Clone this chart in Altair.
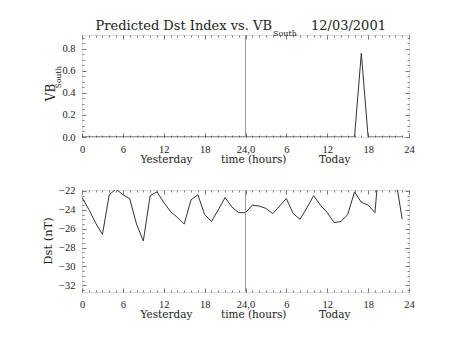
import altair as alt
import pandas as pd

# ---- data ----
hours = [0, 1, 2, 3, 4, 5, 6, 7, 8, 9, 10, 11, 12, 13, 14, 15, 16, 17, 18, 19, 20, 21, 22, 23,
         24, 25, 26, 27, 28, 29, 30, 31, 32, 33, 34, 35, 36, 37, 38, 39, 40, 41, 42, 43, 44, 45, 46, 47]
vb_south = [0, 0, 0, 0, 0, 0, 0, 0, 0, 0, 0, 0, 0, 0, 0, 0, 0, 0, 0, 0, 0, 0, 0, 0,
            0, 0, 0, 0, 0, 0, 0, 0, 0, 0, 0, 0, 0, 0, 0, 0, 0, 0.76, 0, 0, 0, 0, 0, 0]
dst = [-22.7, -23.95, -25.4, -26.6, -22.4, -21.8, -22.4, -22.8, -25.5, -27.3, -22.5, -22.1,
       -23.2, -24.2, -24.8, -25.5, -22.95, -22.4, -24.5, -25.25, -24.0, -22.7, -23.7, -24.3,
       -24.3, -23.5, -23.6, -23.85, -24.4, -23.6, -22.8, -24.4, -25.0, -23.8, -22.5, -23.5,
       -24.3, -25.35, -25.25, -24.5, -22.1, -23.2, -23.5, -24.3, -16.0, -14.0, -20.5, -25.0]
divider_hour = [24]

x_major = [0, 6, 12, 18, 24, 30, 36, 42, 48]
x_minor = list(range(0, 49))
vb_major = [0.0, 0.2, 0.4, 0.6, 0.8]
vb_minor = [0.0, 0.05, 0.1, 0.15, 0.2, 0.25, 0.3, 0.35, 0.4, 0.45, 0.5, 0.55, 0.6, 0.65, 0.7, 0.75, 0.8, 0.85, 0.9]
dst_major = [-32, -30, -28, -26, -24, -22]
dst_minor = [-32.5, -32, -31.5, -31, -30.5, -30, -29.5, -29, -28.5, -28, -27.5, -27, -26.5, -26,
             -25.5, -25, -24.5, -24, -23.5, -23, -22.5, -22]
vb_domain = [0, 0.925]
dst_domain = [-32.7, -21.9]

day_labels = ["Yesterday", "time (hours)", "Today"]
day_label_hours = [12.4, 25.2, 37.1]

title_main = "Predicted Dst Index vs. VB"
title_sub = "South"
title_date = "12/03/2001"

FONT = "DejaVu Serif"
NUMFONT = "Liberation Serif"
TXT = "#222222"
TICK = "#777777"
W, H = 327, 102

df = pd.DataFrame({"hour": hours, "vb": vb_south, "dst": dst})
div_df = pd.DataFrame({"hour": divider_hour})
lab_df = pd.DataFrame({"hour": day_label_hours, "label": day_labels})

x_label_expr = ("datum.value == 24 ? '24,0' : (datum.value > 24 ? '' + (datum.value - 24) : '' + datum.value)")


def ax(values, orient, size, labels=False, fmt=None, label_expr=None):
    kw = dict(values=values, orient=orient, offset=-size, tickSize=size, domain=False,
              grid=False, title=None, tickColor=TICK, labels=labels)
    if labels:
        kw.update(labelFont=NUMFONT, labelFontSize=10.5, labelColor=TXT, labelPadding=7,
                  labelOverlap=False, labelFlush=False)
        if fmt:
            kw["format"] = fmt
        if label_expr:
            kw["labelExpr"] = label_expr
    return alt.Axis(**kw)


def panel(col, ydomain, ymajor, yminor, yfmt):
    xs = alt.Scale(domain=[0, 48], nice=False, zero=False)
    ys = alt.Scale(domain=ydomain, nice=False, zero=False)
    base = alt.Chart(df)
    main = base.mark_line(color="#333333", strokeWidth=1, clip=True).encode(
        x=alt.X("hour:Q", scale=xs, axis=ax(x_major, "bottom", 4, True, label_expr=x_label_expr)),
        y=alt.Y(f"{col}:Q", scale=ys, axis=ax(ymajor, "left", 4, True, fmt=yfmt)),
    )
    l2 = base.mark_line(opacity=0, clip=True).encode(
        x=alt.X("hour:Q", scale=xs, axis=ax(x_minor, "bottom", 2)),
        y=alt.Y(f"{col}:Q", scale=ys, axis=ax(yminor, "left", 2)),
    )
    l3 = base.mark_line(opacity=0, clip=True).encode(
        x=alt.X("hour:Q", scale=xs, axis=ax(x_major, "top", 4)),
        y=alt.Y(f"{col}:Q", scale=ys, axis=ax(ymajor, "right", 4)),
    )
    l4 = base.mark_line(opacity=0, clip=True).encode(
        x=alt.X("hour:Q", scale=xs, axis=ax(x_minor, "top", 2)),
        y=alt.Y(f"{col}:Q", scale=ys, axis=ax(yminor, "right", 2)),
    )
    rule = alt.Chart(div_df).mark_rule(color="#999999", strokeWidth=1).encode(
        x=alt.X("hour:Q", scale=xs, axis=None)
    )
    labs = alt.Chart(lab_df).mark_text(font=FONT, fontSize=10.5, color=TXT, baseline="middle").encode(
        x=alt.X("hour:Q", scale=xs, axis=None),
        y=alt.value(H + 23),
        text="label:N",
    )
    return [main, l2, l3, l4, rule, labs]


def txt(s, x, y, size, align="center", angle=0, baseline="middle"):
    kw = dict(font=FONT, fontSize=size, color=TXT, align=align, baseline=baseline)
    if angle:
        kw["angle"] = angle
    return alt.Chart(pd.DataFrame({"t": [s]})).mark_text(**kw).encode(
        text="t:N", x=alt.value(x), y=alt.value(y)
    )


top_layers = panel("vb", vb_domain, vb_major, vb_minor, ".1f")
top_layers += [
    txt(title_main, 190, -9, 13, align="right"),
    txt(title_sub, 191, -1, 8, align="left"),
    txt(title_date, 229, -9, 13, align="left"),
    txt("VB", -31, 57.5, 12, angle=270),
    txt("South", -23, 42, 7.5, angle=270),
]
top = alt.layer(*top_layers).resolve_axis(x="independent", y="independent").properties(width=W, height=H)

bot_layers = panel("dst", dst_domain, dst_major, dst_minor, "d")
bot_layers += [txt("Dst (nT)", -33, H / 2, 11.5, angle=270)]
bot = alt.layer(*bot_layers).resolve_axis(x="independent", y="independent").properties(width=W, height=H)

chart = alt.vconcat(top, bot, spacing=19).properties(
    padding={"left": 42, "top": 19, "right": 5, "bottom": 5}
).configure_view(stroke="#333333", strokeWidth=1).configure(background="white")

chart.save("out.html", embed_options={"renderer": "svg", "actions": False})
